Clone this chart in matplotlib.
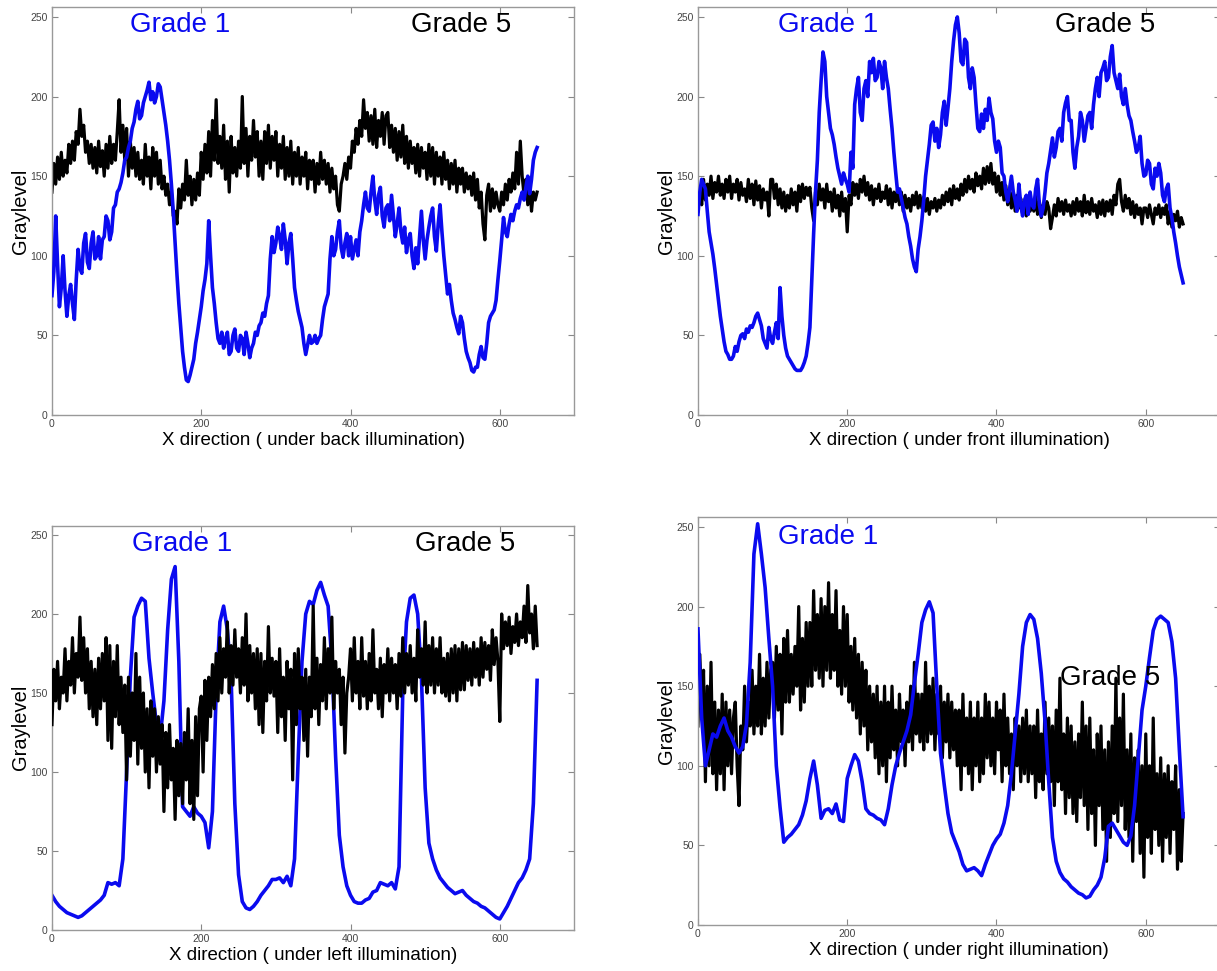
"""Graylevel profiles along X for Grade 1 vs Grade 5 under four illuminations."""
import matplotlib
matplotlib.use("Agg")
import matplotlib.pyplot as plt
import numpy as np

plt.rcParams["font.family"] = ["Liberation Sans", "DejaVu Sans"]

X_END = 650  # profiles run from x=0 to x=650, evenly sampled

# ---- back illumination
back_grade1 = [
    75, 90, 125, 95, 68, 80, 100, 78, 62, 75, 82, 70, 60, 85, 104, 92, 89, 108, 114, 96,
    92, 108, 115, 98, 100, 112, 98, 110, 112, 125, 122, 110, 115, 130, 132, 140, 142, 146, 152, 160,
    162, 168, 172, 180, 184, 192, 197, 186, 188, 196, 200, 204, 209, 198, 203, 196, 200, 208, 206, 198,
    190, 182, 172, 160, 145, 128, 108, 88, 70, 55, 40, 30, 22, 21, 25, 30, 35, 45, 52, 60,
    68, 78, 85, 95, 122, 100, 80, 70, 58, 48, 45, 52, 42, 48, 52, 38, 40, 50, 54, 42,
    40, 50, 48, 38, 52, 45, 36, 42, 45, 52, 50, 56, 58, 64, 62, 70, 75, 98, 112, 102,
    108, 118, 112, 104, 120, 110, 95, 108, 114, 98, 80, 72, 65, 60, 55, 45, 38, 44, 50, 45,
    46, 50, 45, 48, 50, 60, 68, 72, 76, 98, 112, 100, 104, 115, 122, 105, 99, 108, 114, 100,
    112, 98, 104, 110, 100, 115, 122, 132, 140, 130, 128, 140, 150, 135, 126, 138, 143, 125, 118, 130,
    132, 122, 138, 125, 112, 120, 130, 115, 108, 118, 102, 110, 114, 100, 92, 105, 95, 112, 128, 110,
    98, 110, 118, 125, 130, 112, 103, 120, 132, 115, 100, 88, 76, 82, 72, 64, 60, 55, 51, 62,
    58, 48, 40, 36, 33, 28, 27, 30, 30, 38, 43, 36, 35, 45, 58, 62, 64, 66, 72, 85,
    97, 110, 124, 115, 112, 120, 126, 122, 128, 132, 130, 136, 140, 135, 143, 150, 139, 148, 160, 165,
    168,
]
back_grade5 = [
    140, 158, 145, 162, 148, 165, 150, 160, 152, 170, 158, 172, 160, 178, 170, 192, 175, 182, 165, 172,
    158, 170, 155, 168, 152, 172, 156, 166, 150, 170, 155, 175, 158, 170, 160, 178, 198, 165, 182, 160,
    180, 150, 172, 155, 168, 150, 165, 148, 160, 145, 170, 150, 162, 142, 168, 150, 165, 145, 160, 142,
    150, 138, 145, 132, 140, 125, 128, 120, 142, 130, 145, 135, 160, 138, 150, 132, 148, 135, 152, 138,
    165, 148, 170, 152, 178, 150, 185, 160, 198, 158, 175, 155, 182, 148, 172, 140, 175, 152, 168, 150,
    172, 155, 200, 158, 180, 150, 175, 160, 185, 162, 178, 150, 172, 148, 178, 158, 182, 155, 175, 160,
    178, 150, 170, 155, 175, 148, 168, 150, 172, 145, 165, 150, 168, 145, 162, 150, 165, 142, 160, 148,
    160, 140, 158, 145, 165, 148, 160, 145, 158, 140, 155, 142, 150, 132, 128, 145, 150, 158, 148, 162,
    155, 172, 165, 180, 170, 185, 175, 198, 180, 190, 172, 188, 170, 192, 168, 185, 175, 190, 170, 188,
    190, 168, 182, 165, 180, 160, 178, 162, 182, 158, 175, 155, 172, 158, 168, 152, 170, 150, 168, 155,
    165, 148, 170, 150, 168, 145, 165, 150, 162, 145, 165, 148, 160, 142, 158, 145, 160, 140, 155, 145,
    155, 140, 152, 142, 150, 138, 152, 135, 148, 130, 140, 120, 110, 138, 145, 128, 142, 130, 140, 132,
    128, 140, 132, 145, 135, 148, 140, 152, 142, 165, 145, 172, 150, 138, 148, 132, 145, 128, 140, 135,
    140,
]

# ---- front illumination
front_grade1 = [
    126, 140, 148, 145, 142, 128, 115, 108, 101, 92, 82, 72, 62, 54, 46, 40, 38, 35, 35, 37,
    43, 40, 46, 50, 51, 48, 54, 52, 56, 55, 58, 62, 64, 60, 56, 48, 45, 42, 55, 48,
    45, 52, 58, 48, 80, 62, 50, 42, 37, 35, 33, 31, 29, 28, 28, 28, 30, 33, 37, 45,
    55, 85, 114, 140, 160, 190, 210, 228, 222, 200, 190, 180, 176, 170, 162, 155, 150, 145, 152, 148,
    145, 140, 165, 155, 195, 205, 212, 190, 185, 205, 210, 200, 222, 215, 224, 210, 212, 222, 218, 205,
    222, 212, 205, 192, 180, 165, 152, 140, 142, 136, 130, 124, 120, 112, 106, 98, 93, 90, 104, 112,
    122, 135, 150, 160, 170, 182, 184, 172, 180, 168, 176, 190, 197, 182, 193, 205, 222, 235, 245, 250,
    240, 222, 220, 236, 234, 212, 205, 218, 212, 195, 180, 178, 189, 180, 192, 185, 199, 190, 186, 172,
    165, 172, 168, 152, 150, 140, 134, 142, 150, 140, 135, 128, 145, 132, 125, 135, 138, 126, 140, 132,
    130, 142, 148, 132, 125, 130, 140, 152, 158, 166, 174, 162, 168, 178, 180, 172, 190, 196, 200, 185,
    185, 165, 155, 168, 175, 190, 185, 172, 180, 188, 190, 180, 195, 205, 212, 200, 215, 218, 222, 210,
    212, 225, 232, 215, 210, 205, 214, 200, 195, 205, 195, 188, 185, 178, 172, 165, 168, 175, 158, 150,
    151, 160, 158, 145, 142, 155, 150, 158, 152, 138, 134, 142, 145, 130, 124, 115, 108, 100, 93, 88,
    83,
]
front_grade5 = [
    128, 142, 132, 148, 135, 145, 138, 150, 136, 146, 140, 150, 138, 145, 136, 148, 140, 150, 136, 145,
    140, 148, 135, 146, 138, 142, 134, 148, 136, 145, 132, 147, 135, 144, 130, 142, 135, 140, 125, 148,
    148, 136, 145, 132, 142, 130, 140, 128, 138, 130, 142, 132, 140, 128, 144, 134, 145, 136, 143, 138,
    143, 130, 122, 140, 132, 145, 135, 142, 130, 145, 134, 140, 128, 142, 130, 138, 125, 140, 128, 136,
    115, 138, 132, 146, 138, 145, 136, 148, 140, 150, 138, 146, 135, 144, 132, 142, 136, 145, 134, 140,
    136, 144, 132, 142, 130, 140, 134, 142, 132, 140, 128, 138, 130, 136, 128, 138, 132, 140, 130, 138,
    130, 137, 128, 136, 126, 134, 130, 136, 128, 135, 130, 138, 132, 140, 134, 142, 132, 144, 136, 142,
    135, 145, 138, 148, 140, 150, 142, 148, 140, 152, 144, 150, 142, 155, 145, 156, 146, 158, 145, 152,
    140, 150, 138, 146, 135, 144, 132, 142, 130, 140, 128, 138, 130, 136, 126, 134, 125, 135, 128, 132,
    128, 138, 126, 134, 124, 132, 126, 134, 130, 117, 124, 132, 125, 136, 128, 134, 126, 135, 128, 132,
    125, 134, 126, 136, 128, 134, 125, 138, 127, 134, 126, 136, 128, 132, 124, 134, 126, 135, 125, 134,
    128, 135, 126, 138, 132, 145, 148, 134, 128, 138, 130, 136, 126, 134, 124, 132, 126, 130, 120, 130,
    130, 124, 132, 126, 120, 130, 126, 132, 124, 130, 126, 132, 120, 128, 118, 126, 122, 128, 118, 124,
    120,
]

# ---- left illumination
left_grade1 = [
    22, 18, 15, 13, 11, 10, 9, 8, 9, 11,
    13, 15, 17, 19, 22, 30, 29, 30, 28, 45,
    100, 160, 198, 205, 210, 208, 172, 150, 130, 122,
    145, 190, 222, 230, 170, 78, 75, 72, 78, 74,
    72, 68, 52, 75, 150, 195, 205, 190, 160, 80,
    35, 18, 14, 13, 15, 18, 22, 25, 28, 32,
    32, 33, 30, 34, 28, 45, 110, 170, 200, 208,
    206, 215, 220, 212, 205, 170, 110, 60, 40, 28,
    22, 18, 17, 17, 19, 20, 24, 25, 30, 29,
    28, 30, 26, 40, 150, 195, 210, 212, 200, 160,
    90, 55, 45, 38, 33, 30, 27, 25, 23, 24,
    25, 22, 20, 18, 17, 15, 14, 12, 10, 8,
    7, 11, 15, 20, 25, 30, 33, 38, 45, 80,
    158,
]
left_grade5 = [
    130, 165, 145, 170, 140, 160, 150, 178, 145, 170, 155, 185, 150, 175, 160, 198, 158, 185, 150, 178,
    140, 170, 135, 165, 130, 172, 140, 175, 145, 185, 120, 180, 115, 170, 135, 180, 130, 160, 125, 155,
    95, 160, 110, 150, 120, 175, 105, 160, 115, 150, 100, 140, 90, 145, 110, 140, 100, 135, 105, 130,
    75, 125, 90, 130, 95, 115, 70, 120, 85, 118, 80, 125, 95, 140, 80, 120, 70, 135, 85, 140,
    148, 100, 158, 120, 160, 135, 168, 140, 175, 145, 185, 150, 178, 160, 195, 150, 180, 155, 190, 160,
    178, 150, 185, 155, 200, 145, 180, 150, 175, 140, 178, 130, 175, 125, 170, 145, 192, 150, 172, 148,
    170, 125, 178, 135, 160, 120, 170, 140, 165, 95, 175, 130, 178, 140, 160, 120, 165, 110, 160, 135,
    205, 140, 172, 130, 168, 145, 185, 140, 178, 150, 198, 140, 170, 150, 165, 130, 160, 112, 150, 160,
    178, 145, 185, 150, 170, 140, 185, 148, 170, 140, 175, 145, 190, 150, 165, 140, 172, 135, 168, 150,
    178, 145, 172, 150, 168, 140, 175, 148, 185, 150, 175, 155, 180, 150, 172, 145, 190, 160, 178, 155,
    195, 150, 180, 155, 185, 150, 178, 155, 185, 150, 172, 148, 175, 145, 178, 150, 180, 145, 178, 152,
    182, 152, 180, 158, 178, 155, 182, 160, 178, 155, 185, 160, 182, 165, 180, 158, 190, 168, 185, 170,
    132, 200, 178, 195, 180, 198, 175, 192, 182, 200, 180, 195, 185, 205, 182, 218, 188, 200, 178, 205,
    180,
]

# ---- right illumination
right_grade1 = [
    186, 130, 100, 110, 120, 118, 125, 130, 122, 118,
    112, 108, 112, 126, 165, 233, 252, 233, 212, 180,
    150, 100, 74, 52, 55, 57, 60, 63, 69, 78,
    92, 103, 88, 67, 72, 73, 70, 76, 66, 65,
    92, 100, 107, 103, 90, 73, 70, 69, 67, 66,
    63, 73, 88, 100, 108, 115, 122, 132, 152, 170,
    190, 198, 203, 196, 150, 108, 88, 70, 58, 52,
    46, 38, 34, 35, 36, 34, 31, 38, 44, 50,
    54, 57, 64, 75, 95, 120, 145, 175, 190, 195,
    192, 180, 158, 128, 90, 55, 40, 33, 29, 27,
    24, 22, 20, 19, 17, 18, 22, 25, 30, 42,
    62, 64, 60, 56, 52, 50, 56, 75, 105, 135,
    150, 168, 185, 192, 194, 192, 190, 178, 155, 110,
    68,
]
right_grade5 = [
    125, 170, 135, 160, 90, 150, 100, 165, 95, 140, 85, 135, 95, 145, 85, 140, 100, 135, 95, 130,
    140, 100, 75, 125, 110, 150, 115, 140, 125, 160, 120, 150, 125, 170, 120, 155, 125, 165, 130, 160,
    165, 130, 175, 135, 170, 120, 180, 140, 185, 140, 170, 145, 175, 150, 200, 135, 180, 140, 190, 150,
    190, 150, 210, 160, 195, 155, 205, 150, 200, 160, 215, 155, 195, 160, 210, 150, 185, 145, 200, 150,
    195, 140, 175, 135, 180, 130, 170, 120, 165, 125, 160, 110, 150, 115, 145, 105, 150, 95, 140, 100,
    150, 90, 140, 105, 150, 110, 135, 100, 145, 115, 135, 100, 140, 115, 150, 110, 165, 120, 145, 115,
    145, 110, 165, 115, 150, 120, 155, 110, 145, 120, 150, 105, 140, 115, 145, 105, 140, 110, 135, 100,
    135, 85, 145, 100, 130, 95, 140, 85, 130, 100, 140, 90, 130, 95, 145, 105, 140, 100, 130, 95,
    140, 110, 135, 90, 145, 100, 130, 95, 120, 85, 130, 100, 125, 90, 130, 95, 135, 90, 125, 95,
    125, 80, 135, 90, 120, 85, 140, 95, 130, 90, 125, 75, 135, 90, 155, 85, 120, 70, 130, 80,
    125, 70, 115, 65, 120, 80, 140, 75, 125, 60, 130, 70, 110, 50, 120, 75, 125, 60, 110, 40,
    115, 55, 125, 70, 155, 65, 130, 75, 145, 60, 110, 55, 120, 40, 105, 65, 110, 45, 100, 30,
    120, 55, 100, 45, 130, 60, 95, 50, 105, 40, 95, 55, 100, 45, 90, 60, 100, 35, 85, 40,
    70,
]

labels = ["back", "front", "left", "right"]
grade1 = [back_grade1, front_grade1, left_grade1, right_grade1]
grade5 = [back_grade5, front_grade5, left_grade5, right_grade5]

# axes rectangles (figure fraction) and text anchors (data coords)
rects = [
    [0.0427, 0.5726, 0.4293, 0.4198],
    [0.5735, 0.5726, 0.4293, 0.4198],
    [0.0427, 0.0422, 0.4293, 0.4166],
    [0.5735, 0.0474, 0.4293, 0.4197],
]
g1_pos = [(172, 245), (174, 245), (174, 244), (174, 244)]
g5_pos = [(548, 245), (545, 245), (554, 244), (552, 155)]
blue_on_top = [True, True, False, True]


def profile_x(vals):
    return np.linspace(0, X_END, len(vals))


def main():
    fig = plt.figure(figsize=(12.17, 9.71), dpi=100)
    fig.patch.set_facecolor("white")

    for i, name in enumerate(labels):
        ax = fig.add_axes(rects[i])
        y1 = np.array(grade1[i])
        y5 = np.array(grade5[i])

        z1, z5 = (3, 2) if blue_on_top[i] else (2, 3)
        ax.plot(profile_x(y5), y5, color="black", lw=2.3, zorder=z5)
        ax.plot(profile_x(y1), y1, color="#0a0aef", lw=2.6, zorder=z1)

        ax.text(*g1_pos[i], "Grade 1", color="#0a0aef", fontsize=20,
                ha="center", va="center", zorder=5)
        ax.text(*g5_pos[i], "Grade 5", color="black", fontsize=20,
                ha="center", va="center", zorder=5)

        ax.set_xlim(0, 700)
        ax.set_ylim(0, 256)
        ax.set_xticks([0, 200, 400, 600])
        ax.set_yticks([0, 50, 100, 150, 200, 250])
        ax.tick_params(direction="in", top=True, right=True, length=4,
                       width=0.8, colors="#888888", labelcolor="#444444",
                       labelsize=7.5, pad=3)
        for sp in ax.spines.values():
            sp.set_color("#999999")
            sp.set_linewidth(1.0)
        ax.set_xlabel(f"X direction ( under {name} illumination)",
                      fontsize=13.5, labelpad=2)
        ax.set_ylabel("Graylevel", fontsize=14.5, labelpad=0.5)

    fig.savefig("out.png", dpi=100, facecolor="white")


if __name__ == "__main__":
    main()
